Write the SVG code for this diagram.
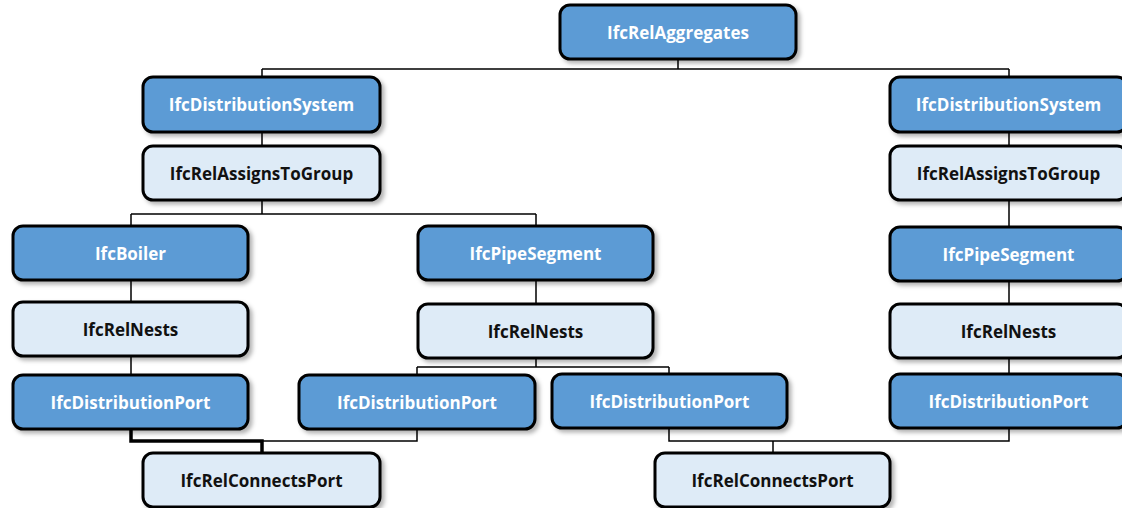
<svg xmlns="http://www.w3.org/2000/svg" width="1122" height="508" viewBox="0 0 1122 508">
<defs>
<filter id="sh" x="-10%" y="-20%" width="130%" height="150%">
<feDropShadow dx="3" dy="3" stdDeviation="2" flood-color="#000" flood-opacity="0.3"/>
</filter>
<style>
.n rect{stroke:#000;stroke-width:3;filter:url(#sh)}
.d rect{fill:#5B9BD5}
.l rect{fill:#DEEBF7}
.n text{font-family:"Open Sans","Liberation Sans",sans-serif;font-weight:bold;font-size:17px;text-anchor:middle;dominant-baseline:central}
.d text{fill:#fff}
.l text{fill:#111}
.c{fill:none;stroke:#000;stroke-width:1.5}
.t{fill:none;stroke:#000;stroke-width:3.5}
</style>
</defs>
<rect width="1122" height="508" fill="#fff"/>
<g id="connectors">
<path class="c" d="M678 59V69M262 69H1009M262 69V77M1009 69V77"/>
<path class="c" d="M262 132V146M262 200V214M131 214H536M131 214V226M536 214V226"/>
<path class="c" d="M131 280V302M131 356V375"/>
<path class="c" d="M536 280V304M536 358V367M417 367H669M417 367V375M669 367V374"/>
<path class="c" d="M1009 132V146M1009 200V227M1009 281V304M1009 358V374"/>
<path class="t" d="M131 429V441H262V453"/>
<path class="c" d="M417 429V441H262"/>
<path class="c" d="M669 428V441H1009V428M773 441V453"/>
</g>
<g id="relAggregates" class="n d"><rect x="560" y="5" width="236" height="54" rx="10"/><text x="678" y="32">IfcRelAggregates</text></g>
<g id="distSystem1" class="n d"><rect x="143" y="77" width="237" height="55" rx="10"/><text x="261.5" y="104.5">IfcDistributionSystem</text></g>
<g id="distSystem2" class="n d"><rect x="890" y="77" width="237" height="55" rx="10"/><text x="1008.5" y="104.5">IfcDistributionSystem</text></g>
<g id="assigns1" class="n l"><rect x="143" y="146" width="237" height="54" rx="10"/><text x="261.5" y="173">IfcRelAssignsToGroup</text></g>
<g id="assigns2" class="n l"><rect x="890" y="146" width="237" height="54" rx="10"/><text x="1008.5" y="173">IfcRelAssignsToGroup</text></g>
<g id="boiler" class="n d"><rect x="13" y="226" width="235" height="54" rx="10"/><text x="130.5" y="253">IfcBoiler</text></g>
<g id="pipe1" class="n d"><rect x="418" y="226" width="235" height="54" rx="10"/><text x="535.5" y="253">IfcPipeSegment</text></g>
<g id="pipe2" class="n d"><rect x="890" y="227" width="237" height="54" rx="10"/><text x="1008.5" y="254">IfcPipeSegment</text></g>
<g id="nests1" class="n l"><rect x="13" y="302" width="235" height="54" rx="10"/><text x="130.5" y="329">IfcRelNests</text></g>
<g id="nests2" class="n l"><rect x="418" y="304" width="235" height="54" rx="10"/><text x="535.5" y="331">IfcRelNests</text></g>
<g id="nests3" class="n l"><rect x="890" y="304" width="237" height="54" rx="10"/><text x="1008.5" y="331">IfcRelNests</text></g>
<g id="port1" class="n d"><rect x="13" y="375" width="235" height="54" rx="10"/><text x="130.5" y="402">IfcDistributionPort</text></g>
<g id="port2" class="n d"><rect x="299" y="375" width="236" height="54" rx="10"/><text x="417" y="402">IfcDistributionPort</text></g>
<g id="port3" class="n d"><rect x="552" y="374" width="235" height="54" rx="10"/><text x="669.5" y="401">IfcDistributionPort</text></g>
<g id="port4" class="n d"><rect x="890" y="374" width="237" height="54" rx="10"/><text x="1008.5" y="401">IfcDistributionPort</text></g>
<g id="connects1" class="n l"><rect x="143" y="453" width="237" height="54" rx="10"/><text x="261.5" y="480">IfcRelConnectsPort</text></g>
<g id="connects2" class="n l"><rect x="655" y="453" width="235" height="54" rx="10"/><text x="772.5" y="480">IfcRelConnectsPort</text></g>
</svg>
